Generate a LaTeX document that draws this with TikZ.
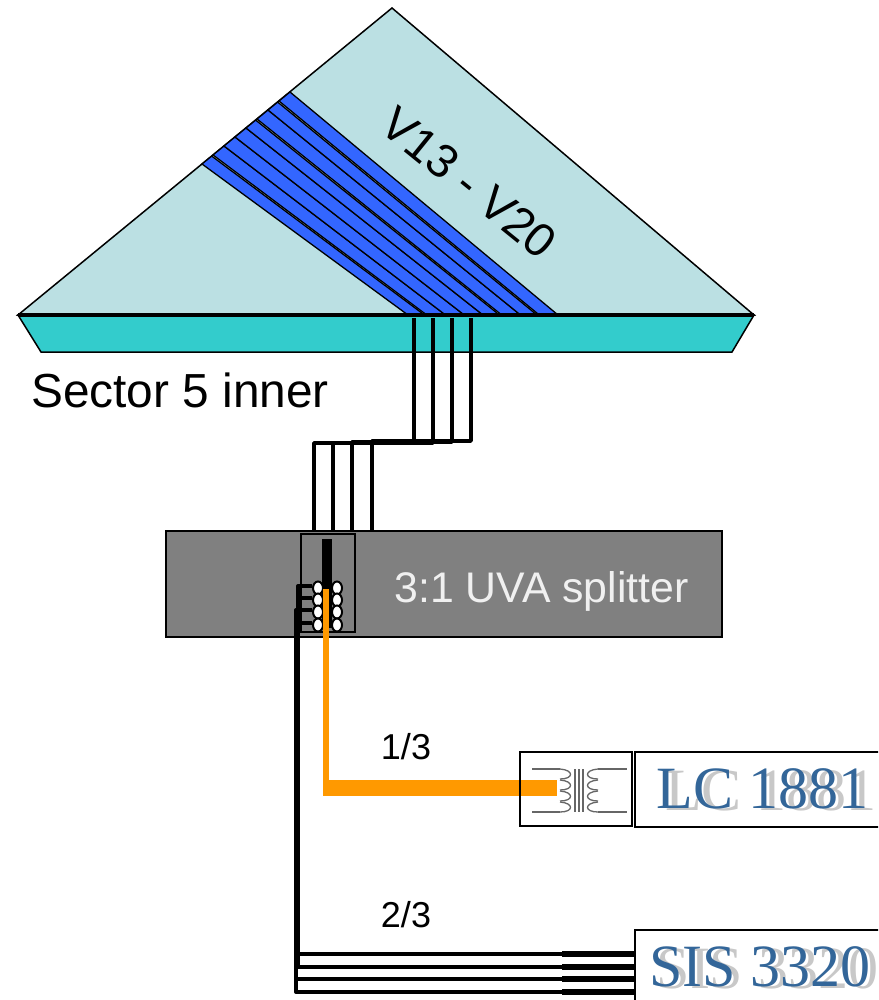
\documentclass[tikz,border=0pt]{standalone}
\usepackage{fontspec}
\setmainfont{Liberation Sans}
\newfontfamily\wordfont{Liberation Serif}
\usetikzlibrary{calc,shapes.geometric}
\definecolor{sectorcol}{HTML}{BBE0E3}
\definecolor{basecol}{HTML}{33CCCC}
\definecolor{stripcol}{HTML}{3366FF}
\definecolor{splittercol}{HTML}{808080}
\definecolor{orangecol}{HTML}{FF9900}
\definecolor{wordcol}{HTML}{336699}
\definecolor{shadowcol}{HTML}{C8C8C8}
\tikzset{
    box/.style={draw=black, line width=1.8pt, fill=white, inner sep=0pt},
    wire/.style={draw=black, line width=3.5pt, line join=round},
    coilline/.style={draw=black!60, line width=1.3pt},
    word/.style={font=\wordfont\fontsize{60}{60}\selectfont, inner sep=0pt},
    hole/.style={ellipse, draw=black, line width=2pt, fill=white, minimum width=10pt, minimum height=13pt, inner sep=0pt},
}
\begin{document}
\begin{tikzpicture}[x=1pt,y=-1pt]
    \useasboundingbox (0,0) rectangle (878,1000);
    \clip (0,0) rectangle (878,1000);

    % Sector
    \coordinate (apex) at (392,8);
    \coordinate (left) at (18,315);
    \coordinate (right) at (754,315);
    \draw[line width=1.5pt, fill=sectorcol] (left) -- (apex) -- (right) -- cycle;

    % Strips
    \coordinate (sa) at (202,164);
    \coordinate (sb) at (290,92);
    \coordinate (sc) at (408,315);
    \coordinate (sd) at (558,315);
    \foreach \i/\g in {0/0.88,1/1,2/1,3/1,4/0.88,5/1,6/0.88,7/1} {
        \pgfmathsetmacro{\fa}{\i/8}
        \pgfmathsetmacro{\fb}{(\i+\g)/8}
        \draw[line width=1.3pt, fill=stripcol] ($(sa)!\fa!(sb)$) -- ($(sa)!\fb!(sb)$) -- ($(sc)!\fb!(sd)$) -- ($(sc)!\fa!(sd)$) -- cycle;
    }

    % Base
    \coordinate (bl) at (41,352);
    \coordinate (br) at (732,352);
    \draw[line width=1.5pt, fill=basecol] (left) -- (right) -- (br) -- (bl) -- cycle;
    \draw[line width=3.5pt] (left) -- (right);

    \node[font=\fontsize{47.8}{48}\selectfont, inner sep=0pt] (sector) at (180,390) {Sector 5 inner};
    \node[font=\fontsize{47}{47}\selectfont, inner sep=0pt, rotate=-39] (vlabel) at (469,183) {V13 - V20};

    % Cables to the splitter
    \foreach \i/\xt/\xb/\ym in {1/414/314/443,2/433/333/443,3/452/352/442,4/471/372/441} {
        \coordinate (top\i) at (\xt,318);
        \coordinate (midt\i) at (\xt,\ym);
        \coordinate (midb\i) at (\xb,\ym);
        \coordinate (bot\i) at (\xb,531);
        \draw[wire] (top\i) -- (midt\i) -- (midb\i) -- (bot\i);
    }

    % Splitter
    \node[draw=black, line width=1.5pt, fill=splittercol, minimum width=556pt, minimum height=106pt, inner sep=0pt] (splitter) at (444,584) {};
    \node[draw=black, line width=1.8pt, minimum width=54pt, minimum height=98pt, inner sep=0pt] (inner) at (328,583) {};
    \node[font=\fontsize{42.8}{43}\selectfont, text=white!94!black, inner sep=0pt] (splitlabel) at (541.5,591) {3:1 UVA splitter};
    \fill[black] (322,539) rectangle (332,628);

    % Outputs, black
    \foreach \i/\yh/\xv/\yb/\w in {1/586/298/954/4,2/598/298/967/4,3/610/296/979/4,4/623/296/992/4} {
        \node[hole] (ha\i) at (318,\yh+2) {};
        \node[hole] (hb\i) at (337,\yh+2) {};
        \coordinate (wa\i) at (\xv,\yh);
        \coordinate (wb\i) at (\xv,\yb);
        \coordinate (wc\i) at (562,\yb);
        \coordinate (wd\i) at (634,\yb);
        \draw[wire, line width=\w pt] (ha\i.west |- wa\i) -- (wa\i) -- (wb\i) -- (wc\i);
        \draw[wire, line width=6pt] (wc\i) -- (wd\i);
    }

    % Output, orange
    \coordinate (oa) at (326,589);
    \coordinate (ob) at (326,796);
    \coordinate (oc) at (557,788);
    \draw[orangecol, line width=6pt] (oa) -- (ob);
    \draw[orangecol, line width=16pt] (329,788) -- (oc);

    \node[font=\fontsize{36}{36}\selectfont, inner sep=0pt] (third) at (406,747) {1/3};
    \node[font=\fontsize{36}{36}\selectfont, inner sep=0pt] (twothird) at (406,915) {2/3};

    % Transformer
    \node[draw=black, line width=1.8pt, minimum width=112pt, minimum height=74pt, inner sep=0pt] (trafo) at (576,789) {};
    \draw[orangecol, line width=16pt] (530,788) -- (oc);
    \draw[coilline, line width=2.4pt] (532,769) -- (560,769);
    \draw[coilline] (532,812) -- (560,812);
    \draw[coilline, line width=2.4pt] (598,769) -- (627,769);
    \draw[coilline] (598,812) -- (627,812);
    \foreach \y in {769,780,791,802} {
        \draw[coilline] (560,\y) .. controls (574,\y+1) and (574,\y+10) .. (560,\y+10);
        \draw[coilline] (598,\y) .. controls (584,\y+1) and (584,\y+10) .. (598,\y+10);
    }
    \foreach \x in {575,579,583} {
        \draw[coilline, line width=1.6pt] (\x,769) -- (\x,812);
    }

    % Readouts
    \node[box, minimum width=260pt, minimum height=75pt, anchor=north west] (lc) at (634,751) {};
    \node[box, minimum width=260pt, minimum height=90pt, anchor=north west] (sis) at (634,929) {};
    \node[word, text=shadowcol] (lcshadow) at (771,791) {LC 1881};
    \node[word, text=wordcol] (lctext) at (762.5,789) {LC 1881};
    \node[word, text=shadowcol] (sisshadow) at (767.5,969) {SIS 3320};
    \node[word, text=wordcol] (sistext) at (760,967) {SIS 3320};
\end{tikzpicture}
\end{document}
